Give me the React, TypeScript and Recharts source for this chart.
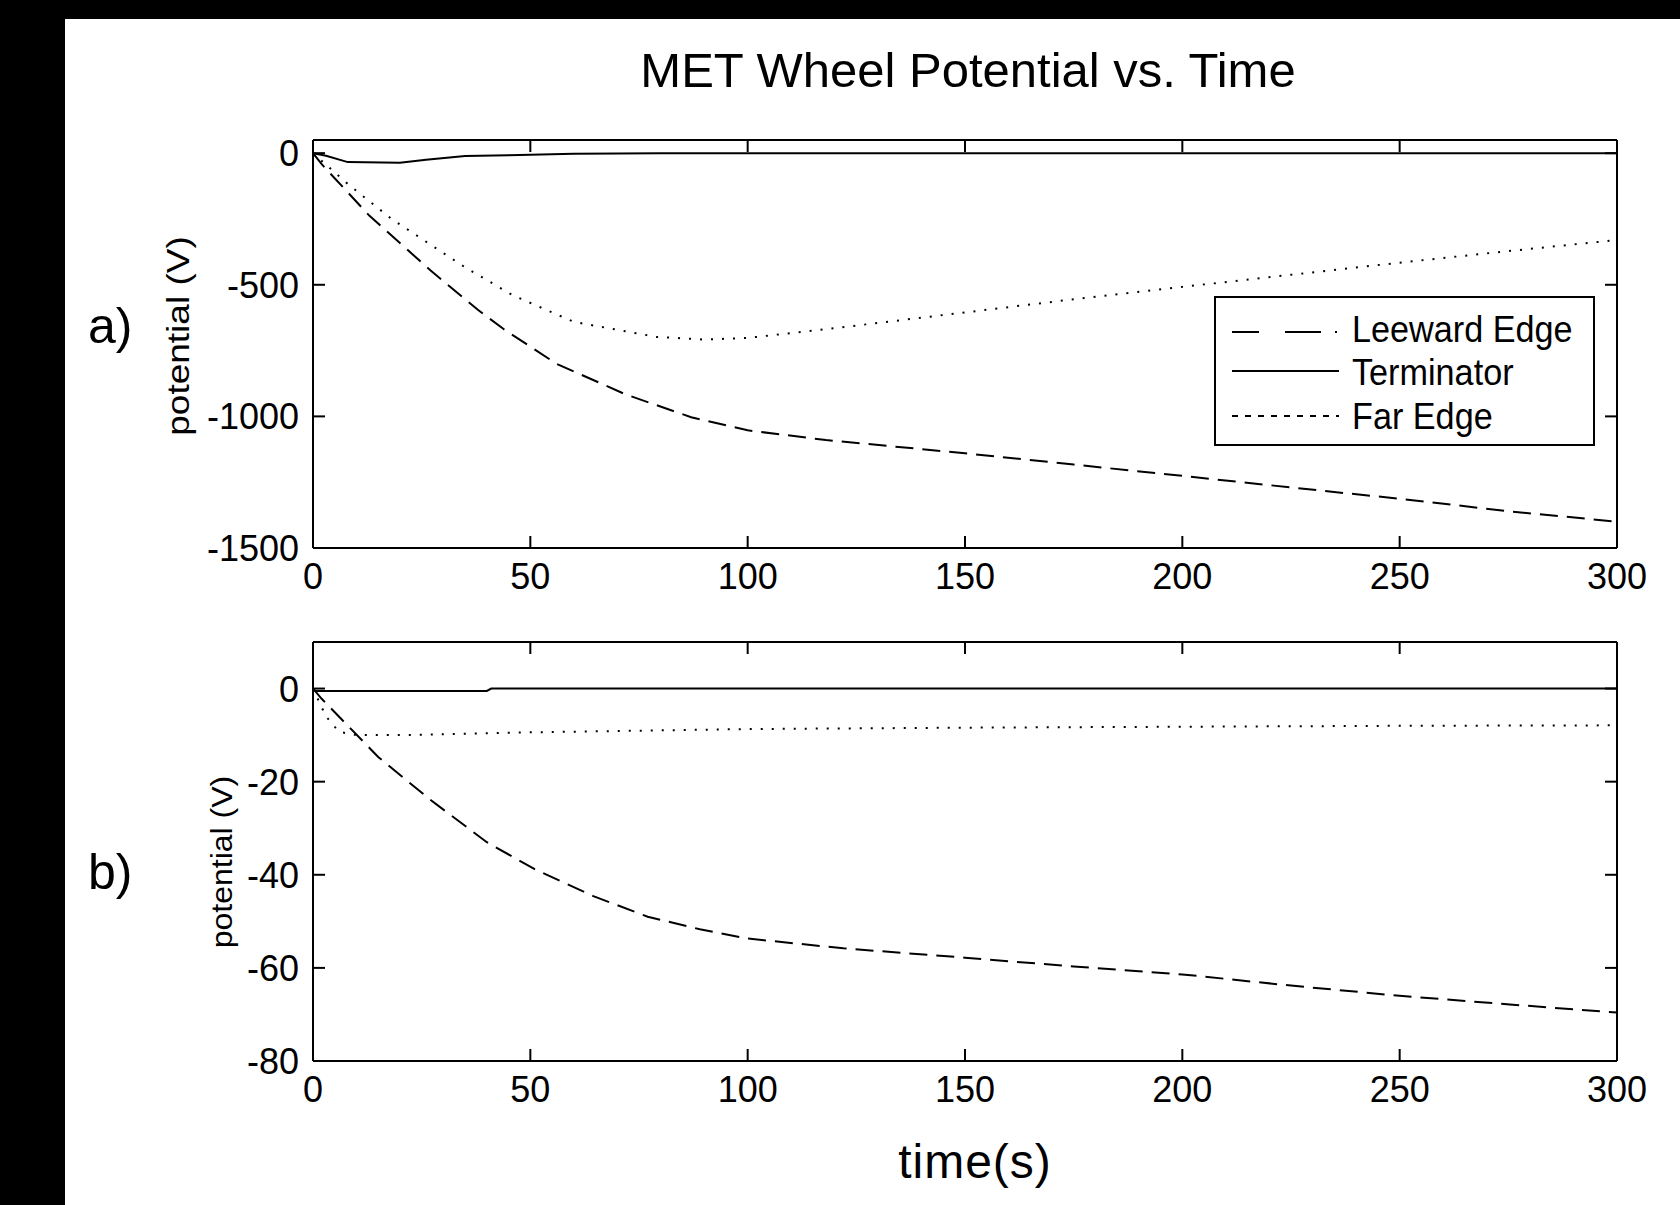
import React from 'react';
import { LineChart, Line, XAxis, YAxis, Legend } from 'recharts';

const FONT = '"Liberation Sans", Arial, Helvetica, sans-serif';

// ---- tick labels ----
const xTicks = [0, 50, 100, 150, 200, 250, 300];
const yTicksA = [0, -500, -1000, -1500];
const yTicksB = [0, -20, -40, -60, -80];
const xDomain = [0, 300];
const yDomainA = [-1500, 50];
const yDomainB = [-80, 10];

// ---- panel a) ----
const leewardA_t = [0, 2, 13, 27, 38, 44, 56, 72, 87, 100, 118, 150, 175, 200, 225, 250, 276, 300];
const leewardA_v = [0, -42, -238, -445, -596, -670, -800, -917, -1003, -1053, -1090, -1140, -1183, -1226, -1270, -1313, -1362, -1400];

const terminatorA_t = [0, 3, 8, 20, 26, 35, 45, 60, 80, 300];
const terminatorA_v = [0, -10, -34, -36, -25, -11, -8, -2, 0, 0];

const farA_t = [0, 8, 18, 28, 35, 46, 60, 79, 90, 100, 125, 150, 175, 200, 225, 250, 275, 300];
const farA_v = [0, -117, -249, -358, -434, -540, -641, -698, -708, -702, -655, -605, -555, -508, -462, -416, -372, -330];

// ---- panel b) ----
const leewardB_t = [0, 2, 15, 27, 40, 51, 64.5, 77, 89, 100, 122, 150, 175, 200, 225, 250, 276, 300];
const leewardB_v = [0, -2.2, -14.7, -23.9, -33, -38.8, -44.6, -49, -51.7, -53.7, -55.8, -57.8, -59.7, -61.4, -63.8, -66, -67.9, -69.6];

const terminatorB_t = [0, 0.5, 40, 41, 300];
const terminatorB_v = [0, -0.5, -0.5, 0, 0];

const farB_t = [0, 3, 6, 10, 20, 50, 100, 150, 200, 250, 300];
const farB_v = [0, -6, -9.3, -10, -10, -9.4, -8.7, -8.4, -8.2, -8.0, -7.9];

const seriesNames = ['Leeward Edge', 'Terminator', 'Far Edge'];
const plotDash = ['18 9', undefined, '2 9'];
const legendDash = ['27 26 36 14 2 100', undefined, '6 7'];

const toPts = (t: number[], v: number[]) => t.map((x, i) => ({ t: x, v: v[i] }));

const TICK_LEN = 12;
const X_MARGIN = 14;
const Y_MARGIN = 14;
const TICK_FS = 36;

const BottomTick = (p: any) => {
  const { x, y, payload } = p;
  const axisY = y - X_MARGIN;
  return (
    <g>
      <line x1={x} x2={x} y1={axisY} y2={axisY - TICK_LEN} stroke="#000" strokeWidth={2} />
      <text x={x} y={axisY + 41} textAnchor="middle" fontSize={TICK_FS} fontFamily={FONT} fill="#000">
        {payload.value}
      </text>
    </g>
  );
};
const TopTick = (p: any) => {
  const { x, y } = p;
  return <line x1={x} x2={x} y1={y} y2={y + TICK_LEN} stroke="#000" strokeWidth={2} />;
};
const LeftTick = (p: any) => {
  const { x, y, payload } = p;
  const axisX = x + Y_MARGIN;
  return (
    <g>
      <line x1={axisX} x2={axisX + TICK_LEN} y1={y} y2={y} stroke="#000" strokeWidth={2} />
      <text x={x} y={y + 13} textAnchor="end" fontSize={TICK_FS} fontFamily={FONT} fill="#000">
        {payload.value}
      </text>
    </g>
  );
};
const RightTick = (p: any) => {
  const { x, y } = p;
  return <line x1={x} x2={x - TICK_LEN} y1={y} y2={y} stroke="#000" strokeWidth={2} />;
};

const LegendBox = () => {
  const baselines = [46, 89, 133];
  const lineYs = [36, 75, 120];
  return (
    <svg width={382} height={152} style={{ display: 'block' }}>
      <rect x={1} y={1} width={379} height={148} fill="#fff" stroke="#000" strokeWidth={2} />
      {seriesNames.map((n, i) => (
        <g key={n}>
          <line x1={18} x2={125} y1={lineYs[i]} y2={lineYs[i]} stroke="#000" strokeWidth={2}
            strokeDasharray={legendDash[i]} />
          <text x={0} y={0} fontSize={36} fontFamily={FONT} fill="#000"
            transform={`translate(138,${baselines[i]}) scale(0.95,1)`}>{n}</text>
        </g>
      ))}
    </svg>
  );
};

type PanelProps = {
  top: number;
  height: number;
  margin: { top: number; right: number; bottom: number; left: number };
  yDomain: number[];
  yTicks: number[];
  series: { t: number[]; v: number[] }[];
  legend?: { left: number; top: number };
};

const Panel = ({ top, height, margin, yDomain, yTicks, series, legend }: PanelProps) => (
  <div style={{ position: 'absolute', left: 0, top, width: 1680, height }}>
    <LineChart width={1680} height={height} margin={margin}>
      <XAxis xAxisId="bottom" dataKey="t" type="number" domain={xDomain} ticks={xTicks} interval={0}
        allowDataOverflow orientation="bottom" height={60} tickSize={0} tickMargin={X_MARGIN}
        axisLine={{ stroke: '#000', strokeWidth: 2 }} tickLine={false} tick={(p: any) => <BottomTick {...p} />} />
      <XAxis xAxisId="top" dataKey="t" type="number" domain={xDomain} ticks={xTicks} interval={0}
        allowDataOverflow orientation="top" height={1} tickSize={0} tickMargin={0}
        axisLine={{ stroke: '#000', strokeWidth: 2 }} tickLine={false} tick={(p: any) => <TopTick {...p} />} />
      <YAxis yAxisId="left" type="number" domain={yDomain} ticks={yTicks} interval={0} allowDataOverflow
        orientation="left" width={100} tickSize={0} tickMargin={Y_MARGIN}
        axisLine={{ stroke: '#000', strokeWidth: 2 }} tickLine={false} tick={(p: any) => <LeftTick {...p} />} />
      <YAxis yAxisId="right" type="number" domain={yDomain} ticks={yTicks} interval={0} allowDataOverflow
        orientation="right" width={1} tickSize={0} tickMargin={0}
        axisLine={{ stroke: '#000', strokeWidth: 2 }} tickLine={false} tick={(p: any) => <RightTick {...p} />} />
      {series.map((s, i) => (
        <Line key={seriesNames[i]} name={seriesNames[i]} data={toPts(s.t, s.v)} dataKey="v"
          xAxisId="bottom" yAxisId="left" type="linear" dot={false} activeDot={false}
          stroke="#000" strokeWidth={2} strokeDasharray={plotDash[i]} isAnimationActive={false} />
      ))}
      {legend && (
        <Legend layout="vertical" align="center" verticalAlign="middle" content={() => <LegendBox />}
          wrapperStyle={{ position: 'absolute', left: legend.left, top: legend.top, width: 382, height: 152 }} />
      )}
    </LineChart>
  </div>
);

export default function App() {
  return (
    <>
      <style>{`html,body{margin:0;padding:0;background:#fff;overflow:hidden;}`}</style>
      <div style={{ position: 'fixed', left: 0, top: 0, right: 0, bottom: 0, background: '#fff' }} />
      <div style={{ position: 'absolute', left: 0, top: 0, width: 1680, height: 1205, background: '#fff', overflow: 'hidden' }}>
        <div style={{ position: 'absolute', left: 0, top: 0, width: 1680, height: 19, background: '#000' }} />
        <div style={{ position: 'absolute', left: 0, top: 0, width: 65, height: 1205, background: '#000' }} />
        <Panel
          top={0}
          height={620}
          margin={{ top: 139, right: 62, bottom: 12, left: 213 }}
          yDomain={yDomainA}
          yTicks={yTicksA}
          series={[
            { t: leewardA_t, v: leewardA_v },
            { t: terminatorA_t, v: terminatorA_v },
            { t: farA_t, v: farA_v },
          ]}
          legend={{ left: 1214, top: 296 }}
        />
        <Panel
          top={620}
          height={585}
          margin={{ top: 21, right: 62, bottom: 84, left: 213 }}
          yDomain={yDomainB}
          yTicks={yTicksB}
          series={[
            { t: leewardB_t, v: leewardB_v },
            { t: terminatorB_t, v: terminatorB_v },
            { t: farB_t, v: farB_v },
          ]}
        />
        <svg width={1680} height={1205} style={{ position: 'absolute', left: 0, top: 0, pointerEvents: 'none' }}>
          <text x={968} y={87} textAnchor="middle" fontSize={49} fontFamily={FONT} fill="#000">
            MET Wheel Potential vs. Time
          </text>
          <text x={88} y={343} fontSize={50} fontFamily={FONT} fill="#000">a)</text>
          <text x={88} y={889} fontSize={50} fontFamily={FONT} fill="#000">b)</text>
          <text x={0} y={0} textAnchor="middle" fontSize={37} fontFamily={FONT} fill="#000"
            transform="translate(189,336) scale(0.85,1) rotate(-90)">potential (V)</text>
          <text x={0} y={0} textAnchor="middle" fontSize={32} fontFamily={FONT} fill="#000"
            transform="translate(232,862) scale(0.95,1) rotate(-90)">potential (V)</text>
          <text x={975} y={1178} textAnchor="middle" fontSize={48} fontFamily={FONT} fill="#000" letterSpacing={1}>
            time(s)
          </text>
        </svg>
      </div>
    </>
  );
}
